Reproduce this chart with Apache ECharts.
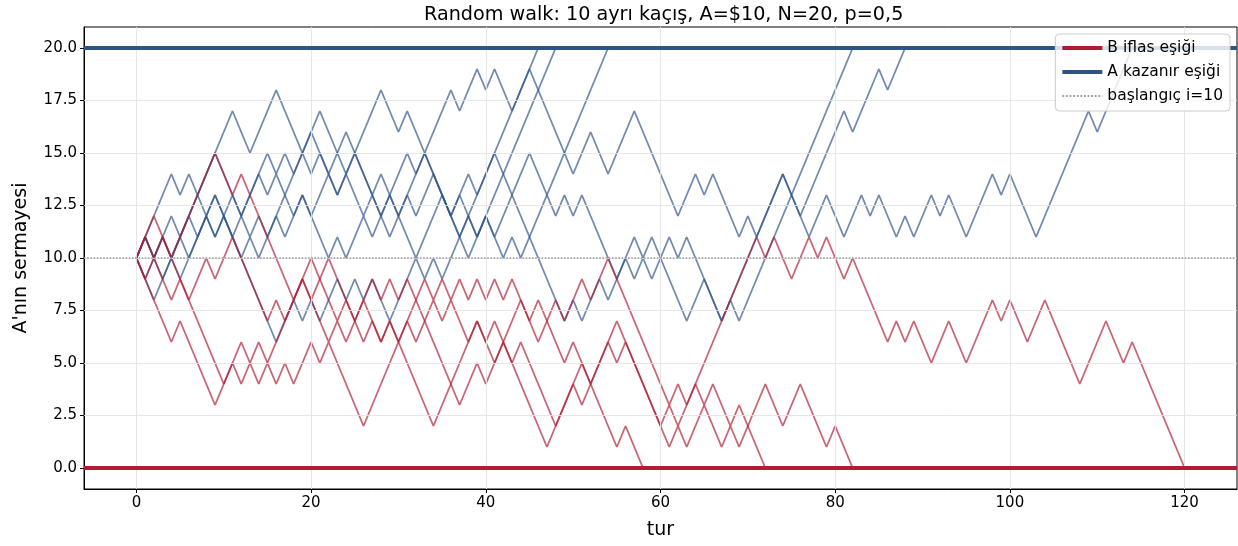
<!DOCTYPE html>
<html><head><meta charset="utf-8">
<script src="https://cdn.jsdelivr.net/npm/echarts@6/dist/echarts.min.js"></script>
<style>html,body{margin:0;padding:0;background:#fff}#c{width:1238px;height:546px}</style>
</head><body><div id="c"></div>
<script>
// Walk vertices: [round, capital] at each turning point (straight ±1 steps between)
const walkB1 = [[0,10],[4,14],[5,13],[6,14],[8,12],[9,13],[16,6],[18,8],[19,7],[20,8],[21,7],[23,9],[24,8],[25,9],[26,8],[27,9],[29,7],[32,10],[33,9],[34,10],[35,9],[37,11],[46,20]];
const walkB2 = [[0,10],[1,11],[2,10],[3,11],[4,10],[9,15],[13,11],[14,12],[15,11],[20,16],[22,14],[24,16],[27,13],[28,14],[30,12],[33,15],[38,10],[40,12],[48,20]];
const walkB3 = [[0,10],[1,9],[2,8],[4,10],[5,9],[8,12],[9,11],[10,12],[11,11],[15,15],[16,14],[17,15],[18,14],[19,15],[20,14],[21,15],[23,13],[24,14],[26,12],[27,13],[29,11],[31,13],[32,12],[34,14],[37,11],[38,12],[39,11],[40,12],[42,10],[43,11],[44,10],[54,20]];
const walkB4 = [[0,10],[1,9],[2,10],[3,9],[6,12],[7,11],[9,13],[12,10],[13,11],[14,10],[16,12],[17,11],[19,13],[20,12],[22,14],[23,13],[25,15],[28,12],[29,13],[32,10],[33,11],[35,13],[36,12],[38,14],[39,13],[41,15],[42,14],[44,12],[49,7],[50,8],[51,7],[53,9],[54,8],[56,10],[57,9],[58,10],[59,9],[60,10],[63,7],[65,9],[67,7],[68,8],[69,7],[82,20]];
const walkB5 = [[0,10],[1,11],[2,10],[3,11],[4,10],[5,11],[6,10],[8,12],[9,11],[11,13],[12,12],[14,14],[15,13],[16,14],[18,12],[19,13],[22,10],[23,11],[24,10],[26,12],[27,11],[31,15],[32,14],[33,15],[36,12],[37,13],[39,11],[40,12],[41,11],[44,14],[45,15],[48,12],[49,13],[50,12],[51,13],[55,9],[57,11],[58,10],[59,11],[60,10],[61,11],[62,10],[63,11],[67,7],[71,11],[72,12],[74,14],[76,12],[81,17],[82,16],[85,19],[86,18],[88,20]];
const walkB6 = [[0,10],[1,11],[2,10],[4,12],[5,11],[11,17],[13,15],[16,18],[19,15],[21,17],[24,14],[28,18],[30,16],[31,17],[33,15],[34,16],[36,18],[37,17],[39,19],[40,18],[41,19],[43,17],[45,19],[50,14],[52,16],[54,14],[57,17],[62,12],[64,14],[65,13],[66,14],[69,11],[70,12],[71,11],[74,14],[77,11],[79,13],[81,11],[83,13],[84,12],[85,13],[87,11],[88,12],[89,11],[91,13],[92,12],[93,13],[95,11],[98,14],[99,13],[100,14],[103,11],[109,17],[110,16],[114,20]];
const walkR1 = [[0,10],[1,9],[2,8],[4,6],[5,7],[9,3],[12,6],[13,5],[14,6],[15,5],[20,10],[23,7],[24,8],[26,6],[27,7],[28,6],[29,7],[34,2],[39,7],[40,6],[41,7],[47,1],[51,5],[55,1],[56,2],[58,0]];
const walkR2 = [[0,10],[1,11],[2,12],[7,7],[10,4],[11,5],[12,4],[13,5],[14,4],[15,5],[16,4],[17,5],[18,4],[20,6],[21,5],[22,6],[26,2],[31,7],[32,6],[34,8],[35,7],[36,8],[38,6],[39,7],[41,5],[44,8],[45,7],[46,8],[49,5],[50,6],[52,4],[55,7],[60,2],[61,3],[62,2],[64,4],[65,3],[66,4],[68,2],[69,3],[72,0]];
const walkR3 = [[0,10],[1,11],[2,10],[3,11],[4,10],[9,15],[11,13],[12,14],[18,8],[19,9],[20,8],[22,6],[23,7],[24,6],[27,9],[28,8],[29,9],[30,8],[31,9],[37,3],[39,5],[40,4],[42,6],[43,5],[44,6],[48,2],[50,4],[51,3],[54,6],[55,5],[56,6],[61,1],[62,2],[63,1],[65,3],[67,1],[68,2],[69,1],[72,4],[74,2],[76,4],[79,1],[80,2],[82,0]];
const walkR4 = [[0,10],[1,9],[2,10],[3,9],[4,8],[5,9],[6,8],[8,10],[9,9],[11,11],[15,7],[16,8],[17,7],[19,9],[20,8],[22,10],[25,7],[26,8],[28,6],[29,7],[30,6],[33,9],[34,8],[35,9],[36,8],[37,9],[38,8],[39,9],[40,8],[41,9],[42,8],[43,9],[46,6],[48,8],[49,7],[51,9],[52,8],[54,10],[61,3],[62,4],[63,3],[67,7],[71,11],[72,10],[73,11],[75,9],[77,11],[78,10],[79,11],[81,9],[82,10],[86,6],[87,7],[88,6],[89,7],[91,5],[93,7],[95,5],[98,8],[99,7],[100,8],[102,6],[104,8],[108,4],[111,7],[113,5],[114,6],[120,0]];

const blueWalks = [walkB1, walkB2, walkB3, walkB4, walkB5, walkB6];
const redWalks = [walkR1, walkR2, walkR3, walkR4];

const RUIN = 0, TARGET = 20, START = 10;
const X_TICKS = [0, 20, 40, 60, 80, 100, 120];
const Y_TICKS = [0, 2.5, 5, 7.5, 10, 12.5, 15, 17.5, 20];
const X_MIN = -6, X_MAX = 126, Y_MIN = -1, Y_MAX = 21;

const RED = '#b01c33', BLUE = '#2d5487', GRAY = '#9a9aa2';
const FONT = 'DejaVu Sans';

const series = [];
series.push({
  type: 'line', data: [], silent: true, z: 1,
  markLine: {
    symbol: 'none', silent: true, animation: false, label: {show: false},
    lineStyle: {color: '#e4e4e4', width: 0.9, type: 'solid'},
    data: X_TICKS.map(v => ({xAxis: v})).concat(Y_TICKS.map(v => ({yAxis: v})))
  }
});
const walkSeries = (w, c) => ({
  type: 'line', data: w, symbol: 'none', silent: true, z: 3,
  color: c, lineStyle: {color: c, width: 1.8, opacity: 0.68}
});
blueWalks.forEach(w => series.push(walkSeries(w, BLUE)));
redWalks.forEach(w => series.push(walkSeries(w, RED)));
const hline = (name, val, c, width, type, z) => ({
  name, type: 'line', data: [], symbol: 'none', z, color: c,
  lineStyle: {color: c, width, type},
  markLine: {symbol: 'none', silent: true, animation: false, label: {show: false},
    lineStyle: {color: c, width, type}, data: [{yAxis: val}]}
});
series.push(hline('B iflas eşiği', RUIN, RED, 4, 'solid', 5));
series.push(hline('A kazanır eşiği', TARGET, BLUE, 4, 'solid', 5));
series.push(hline('başlangıç i=10', START, GRAY, 1.6, 'dotted', 2));

const chart = echarts.init(document.getElementById('c'), null, {renderer: 'canvas'});
chart.setOption({
  animation: false,
  backgroundColor: '#fff',
  textStyle: {fontFamily: FONT},
  title: {
    text: 'Random walk: 10 ayrı kaçış, A=$10, N=20, p=0,5',
    left: 419, top: 1,
    textStyle: {fontFamily: FONT, fontSize: 19.2, fontWeight: 'normal', color: '#000'}
  },
  grid: {left: 84, right: 1, top: 27, bottom: 57, show: true, borderColor: '#000', borderWidth: 1, backgroundColor: 'transparent'},
  legend: {
    z: 20, zlevel: 0,
    data: [
      {name: 'B iflas eşiği'},
      {name: 'A kazanır eşiği'},
      {name: 'başlangıç i=10', lineStyle: {width: 1.8}}
    ],
    orient: 'vertical', right: 8, top: 34,
    itemWidth: 40, itemHeight: 17, itemGap: 8,
    padding: [6, 7, 7, 5],
    itemStyle: {opacity: 0, borderWidth: 0},
    lineStyle: {width: 4},
    backgroundColor: 'rgba(255,255,255,0.82)', borderColor: '#cccccc', borderWidth: 1, borderRadius: 4,
    textStyle: {fontFamily: FONT, fontSize: 15.5, color: '#000'}
  },
  xAxis: {
    type: 'value', min: X_MIN, max: X_MAX,
    name: 'tur', nameLocation: 'middle', nameGap: 32,
    nameTextStyle: {fontFamily: FONT, fontSize: 19, color: '#000'},
    axisLine: {show: true, onZero: false, lineStyle: {color: '#000', width: 1}},
    axisTick: {show: true, customValues: X_TICKS, length: 4, lineStyle: {color: '#000'}},
    axisLabel: {customValues: X_TICKS, fontFamily: FONT, fontSize: 15, color: '#000', margin: 7},
    splitLine: {show: false}
  },
  yAxis: {
    type: 'value', min: Y_MIN, max: Y_MAX,
    name: "A'nın sermayesi", nameLocation: 'middle', nameGap: 53, nameRotate: 90,
    nameTextStyle: {fontFamily: FONT, fontSize: 19, color: '#000'},
    axisLine: {show: true, onZero: false, lineStyle: {color: '#000', width: 1}},
    axisTick: {show: true, customValues: Y_TICKS, length: 4, lineStyle: {color: '#000'}},
    axisLabel: {customValues: Y_TICKS, fontFamily: FONT, fontSize: 15, color: '#000', margin: 7,
      formatter: v => v.toFixed(1)},
    splitLine: {show: false}
  },
  series
});
</script></body></html>
